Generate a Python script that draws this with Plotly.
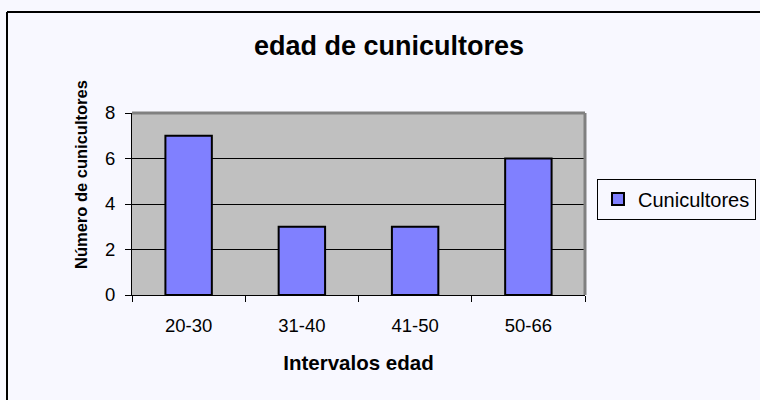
import plotly.graph_objects as go

categories = ["20-30", "31-40", "41-50", "50-66"]
values = [7, 3, 3, 6]
series_name = "Cunicultores"
title_text = "edad de cunicultores"
x_title = "Intervalos edad"
y_title = "Número de cunicultores"

fig = go.Figure()
fig.add_trace(go.Bar(
    x=categories, y=values, name=series_name,
    marker=dict(color="#8080FF", line=dict(color="black", width=2)),
    width=0.41,
))

font_family = "Liberation Sans, Arial, sans-serif"
L, R, T, B = 132, 175, 113, 105
PW, PH = 760 - L - R, 400 - T - B

fig.update_layout(
    width=760, height=400,
    margin=dict(l=L, r=R, t=T, b=B, autoexpand=False),
    paper_bgcolor="#F8F8FF",
    plot_bgcolor="#C0C0C0",
    showlegend=True,
    font=dict(family=font_family, color="black"),
    title=dict(text="<b>" + title_text + "</b>", x=389 / 760, xanchor="center",
               y=1 - 46 / 400, yanchor="middle", font=dict(size=27)),
    legend=dict(x=(597 - L) / PW, y=(295 - 199) / PH,
                xanchor="left", yanchor="middle",
                bgcolor="#F8F8FF", bordercolor="black", borderwidth=1,
                font=dict(size=20), itemwidth=30),
    xaxis=dict(
        title=dict(text="<b>" + x_title + "</b>", font=dict(size=20.5), standoff=20),
        showline=True, linecolor="black", linewidth=1,
        ticks="outside", ticklen=6, tickcolor="black", tickson="boundaries",
        tickfont=dict(size=18.5), showgrid=False, ticklabelstandoff=14,
    ),
    yaxis=dict(
        range=[0, 8], dtick=2,
        showline=True, linecolor="black", linewidth=1,
        ticks="outside", ticklen=6, tickcolor="black",
        tickfont=dict(size=18.5), ticklabelstandoff=6,
        showgrid=True, gridcolor="black", gridwidth=1,
        zeroline=False,
    ),
    annotations=[
        dict(text="<b>" + y_title + "</b>", xref="paper", yref="paper",
             x=(81 - L) / PW, y=(295 - 175) / PH, textangle=-90,
             xanchor="center", yanchor="middle", showarrow=False,
             font=dict(size=16.5)),
    ],
    shapes=[
        dict(type="line", xref="paper", yref="paper",
             x0=(7 - L) / PW, x1=(760 - L) / PW, y0=(295 - 12) / PH, y1=(295 - 12) / PH,
             line=dict(color="black", width=2)),
        dict(type="line", xref="paper", yref="paper",
             x0=(7 - L) / PW, x1=(7 - L) / PW, y0=(295 - 400) / PH, y1=(295 - 12) / PH,
             line=dict(color="black", width=2)),
        dict(type="line", xref="paper", yref="paper", x0=0, x1=1, y0=1, y1=1,
             line=dict(color="#808080", width=3)),
        dict(type="line", xref="paper", yref="paper", x0=1, x1=1, y0=0, y1=1,
             line=dict(color="#808080", width=3)),
    ],
)

fig.write_html("out.html", config={"displayModeBar": False},
               post_script="document.body.style.margin='0';document.body.style.overflow='hidden';")
